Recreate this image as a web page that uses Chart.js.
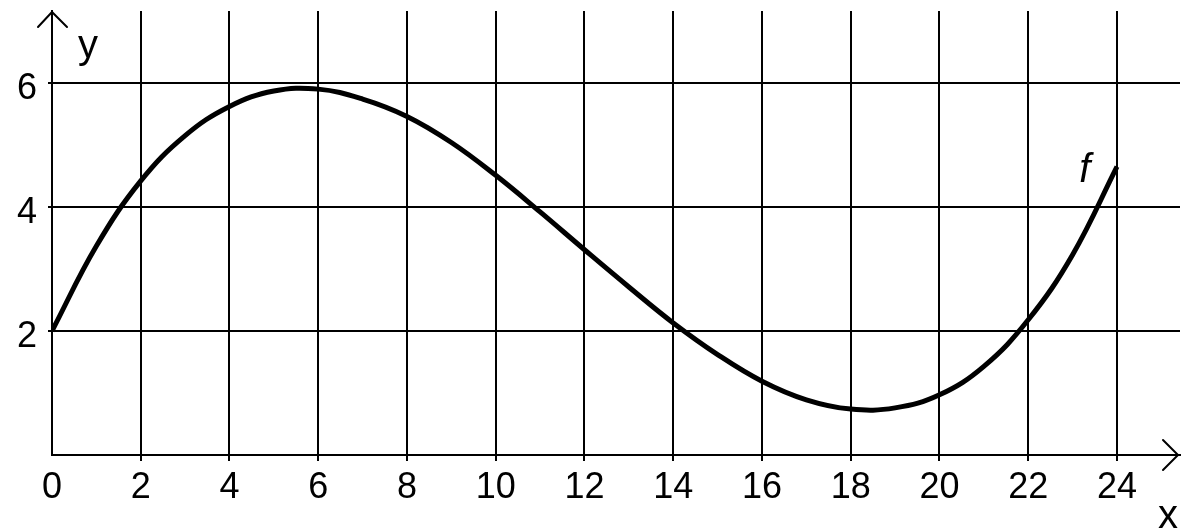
<!DOCTYPE html>
<html lang="en">
<head>
  <meta charset="UTF-8">
  <title>Graph of f</title>
  <script src="https://cdn.jsdelivr.net/npm/chart.js"></script>
  <style>
    body {
      margin: 0;
      background: #ffffff;
    }

    .chart-container {
      position: relative;
      width: 1196px;
      height: 528px;
    }
  </style>
</head>
<body>
  <div class="chart-container">
    <canvas id="graph"></canvas>
  </div>

  <script>
    // values, one per x unit
    const xValues = [0, 1, 2, 3, 4, 5, 6, 7, 8, 9, 10, 11, 12, 13, 14, 15, 16, 17, 18, 19, 20, 21, 22, 23, 24];
    const fValues = [2.00, 3.37, 4.42, 5.15, 5.62, 5.87, 5.90, 5.74, 5.46, 5.04, 4.51, 3.92, 3.31, 2.71, 2.13, 1.62, 1.19, 0.89, 0.74, 0.76, 0.97, 1.43, 2.18, 3.23, 4.65];
    const xTicks = [0, 2, 4, 6, 8, 10, 12, 14, 16, 18, 20, 22, 24];
    const yTicks = [2, 4, 6];

    const fontFamily = "'Liberation Sans', Arial, sans-serif";

    // arrow heads, axis names and the curve label
    const axisDecorations = {
      id: "axisDecorations",
      afterDraw(chart) {
        const ctx = chart.ctx;
        const area = chart.chartArea;
        ctx.save();
        ctx.strokeStyle = "#000";
        ctx.lineWidth = 2;
        ctx.lineCap = "round";

        // y axis arrow
        ctx.beginPath();
        ctx.moveTo(area.left - 14, area.top + 16);
        ctx.lineTo(area.left, area.top + 1);
        ctx.lineTo(area.left + 15, area.top + 16);
        ctx.stroke();

        // x axis arrow
        ctx.beginPath();
        ctx.moveTo(area.right - 17, area.bottom - 15);
        ctx.lineTo(area.right - 2, area.bottom);
        ctx.lineTo(area.right - 17, area.bottom + 15);
        ctx.stroke();

        ctx.fillStyle = "#000";
        ctx.textAlign = "left";
        ctx.textBaseline = "alphabetic";
        ctx.font = "40px " + fontFamily;
        ctx.fillText("y", area.left + 26, 58);
        ctx.fillText("x", area.right - 22, 528);

        ctx.font = "italic 40px " + fontFamily;
        const fx = chart.scales.x.getPixelForValue(23.15);
        ctx.fillText("f", fx, 182);
        ctx.restore();
      }
    };

    const hideZero = function(context) {
      return context.tick && context.tick.value === 0 ? "rgba(0,0,0,0)" : "#000";
    };

    new Chart(document.getElementById("graph"), {
      type: "line",
      data: {
        datasets: [{
          label: "f",
          data: xValues.map((x, i) => ({ x: x, y: fValues[i] })),
          borderColor: "#000",
          borderWidth: 5,
          pointRadius: 0,
          tension: 0.4,
          fill: false
        }]
      },
      options: {
        responsive: true,
        maintainAspectRatio: false,
        animation: false,
        layout: {
          padding: { top: 11, right: 16, left: 0, bottom: 0 }
        },
        plugins: {
          legend: { display: false },
          tooltip: { enabled: false }
        },
        scales: {
          x: {
            type: "linear",
            min: 0,
            max: 25.42,
            afterFit: function(scale) {
              scale.height = 73;
              scale.paddingLeft = 0;
              scale.paddingRight = 0;
            },
            afterBuildTicks: function(scale) {
              scale.ticks = xTicks.map(v => ({ value: v }));
            },
            ticks: {
              stepSize: 2,
              includeBounds: false,
              maxRotation: 0,
              autoSkip: false,
              padding: 5,
              color: "#000",
              font: { family: fontFamily, size: 36 }
            },
            grid: {
              color: hideZero,
              lineWidth: 2,
              tickLength: 6
            },
            border: { display: true, color: "#000", width: 2 }
          },
          y: {
            min: 0,
            max: 7.16,
            afterFit: function(scale) {
              scale.width = 52;
              scale.paddingTop = 0;
              scale.paddingBottom = 0;
            },
            afterBuildTicks: function(scale) {
              scale.ticks = [0].concat(yTicks).map(v => ({ value: v }));
            },
            ticks: {
              stepSize: 2,
              includeBounds: false,
              padding: 11,
              labelOffset: 6,
              color: "#000",
              font: { family: fontFamily, size: 36 },
              callback: function(value) {
                return value === 0 ? "" : value;
              }
            },
            grid: {
              color: hideZero,
              lineWidth: 2,
              tickLength: 4
            },
            border: { display: true, color: "#000", width: 2 }
          }
        }
      },
      plugins: [axisDecorations]
    });
  </script>
</body>
</html>
